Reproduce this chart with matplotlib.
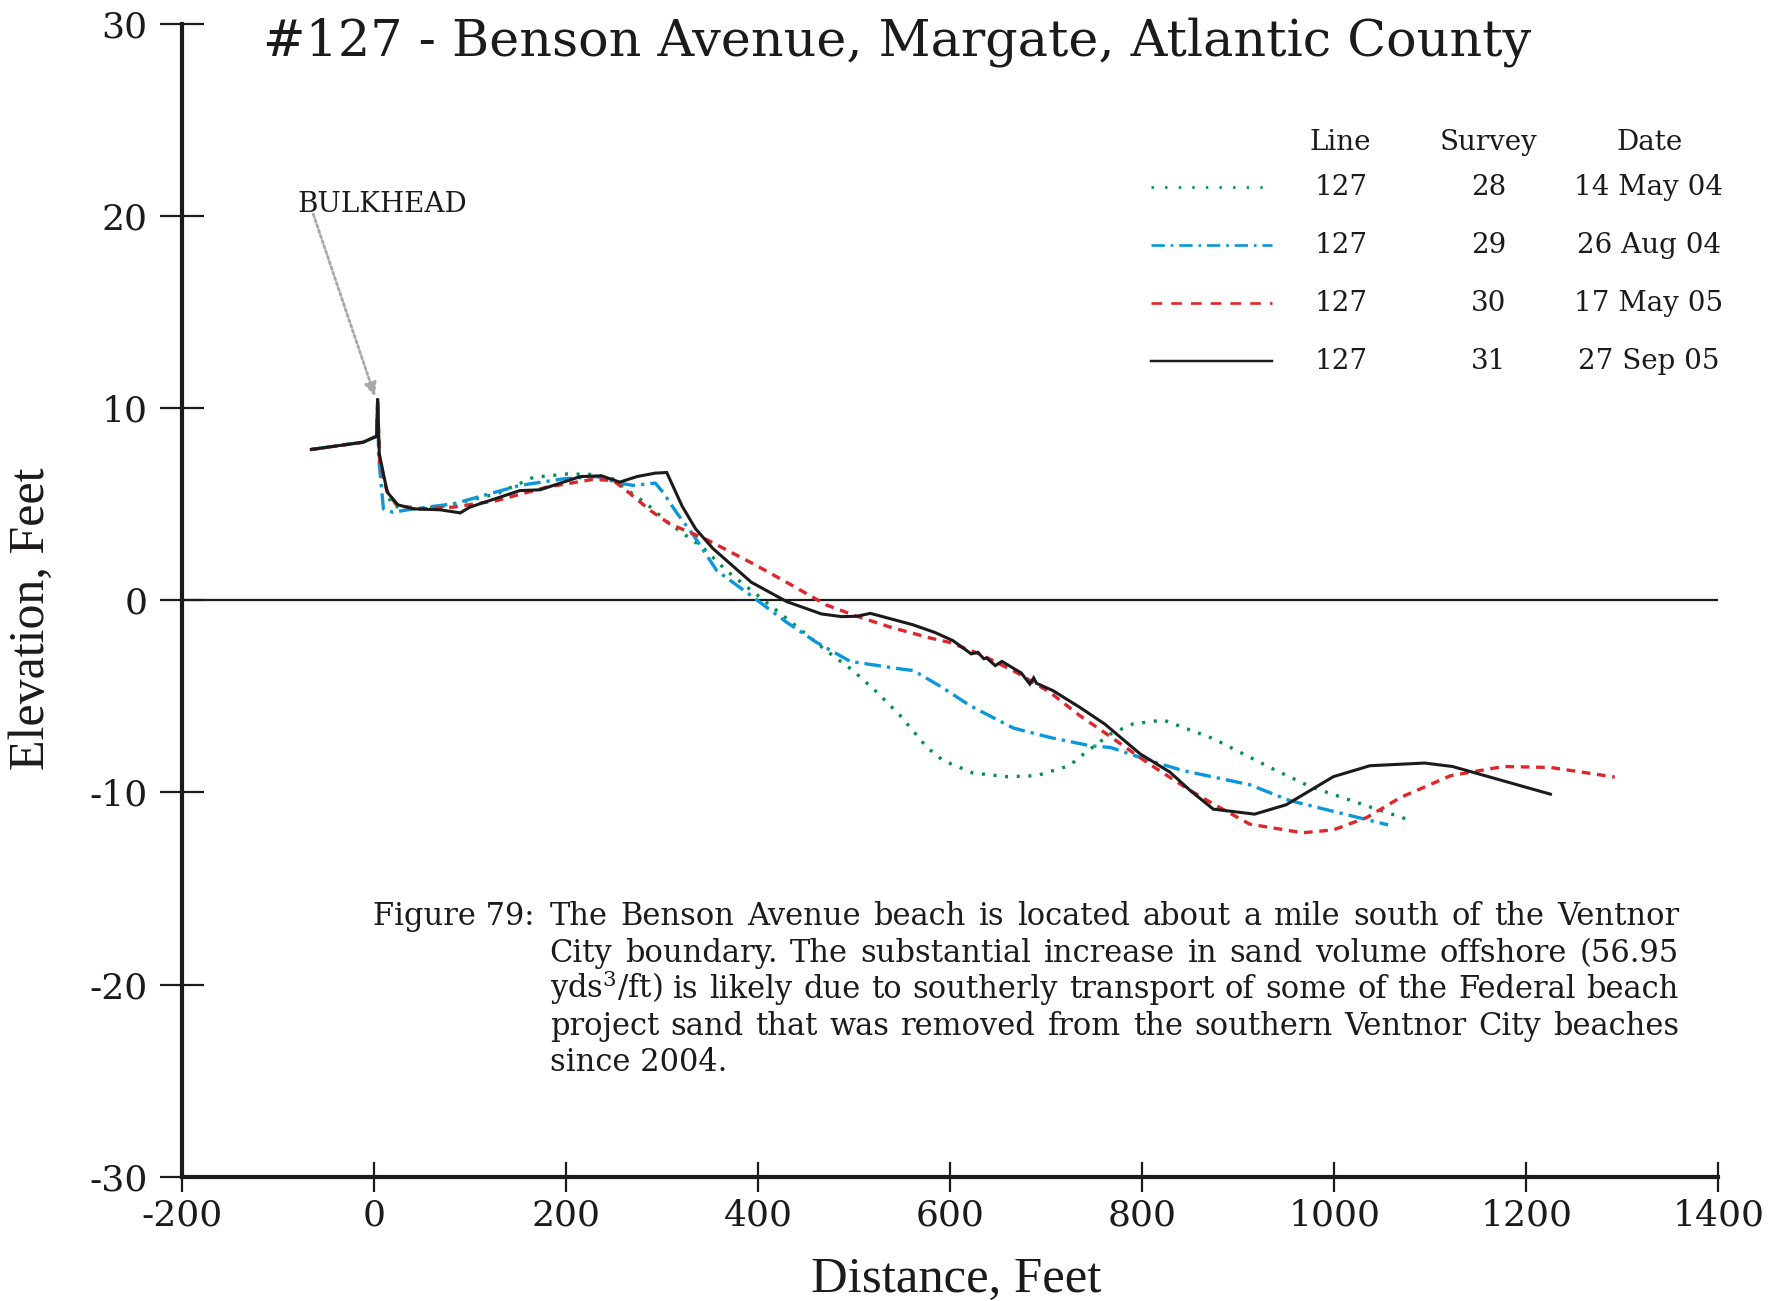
import matplotlib
matplotlib.use("Agg")
import matplotlib.pyplot as plt
from matplotlib.lines import Line2D

# --- figure size in pixels (dpi 100) ---
W, H = 1781, 1301

# --- profile data: distance (ft) and elevation (ft) for each survey ---
x28 = [-65, -11, 3, 4, 6, 18.6, 41, 76, 128, 166, 202, 228, 249, 265, 284, 308, 343, 367,
       402, 437, 471, 499, 524, 548, 576, 593, 624, 659, 690, 724, 741, 767, 790, 822, 874,
       933, 975, 1037, 1081]
y28 = [7.85, 8.23, 8.54, 10.3, 7.0, 4.93, 4.7, 4.93, 5.54, 6.4, 6.58, 6.55, 6.32, 5.71, 5.02,
       3.98, 2.73, 1.55, 0.16, -1.23, -2.62, -3.66, -4.79, -6.0, -7.66, -8.35, -8.99, -9.18,
       -9.13, -8.61, -7.92, -6.96, -6.44, -6.23, -7.2, -8.7, -9.7, -10.75, -11.48]

x29 = [-65, -11, 3, 4, 5, 10, 20, 41, 83, 152, 197, 232, 256, 270, 293, 301, 315, 333, 357,
       395, 430, 461, 496, 548, 562, 590, 621, 666, 704, 746, 767, 808, 843, 912, 954, 1056]
y29 = [7.85, 8.23, 8.54, 10.3, 7.5, 4.76, 4.58, 4.76, 5.02, 5.98, 6.32, 6.44, 6.1, 5.98, 6.1,
       5.63, 4.58, 3.37, 1.55, 0.16, -1.15, -2.19, -3.18, -3.57, -3.66, -4.48, -5.49, -6.65,
       -7.14, -7.57, -7.66, -8.35, -8.87, -9.6, -10.43, -11.69]

x30 = [-65, -11, 3, 4, 6, 13.5, 24, 52, 83, 128, 180, 228, 249, 265, 288, 308, 347, 395, 433,
       471, 503, 538, 579, 600, 631, 669, 704, 735, 763, 805, 850, 874, 912, 967, 999, 1034,
       1069, 1121, 1176, 1225, 1292]
y30 = [7.85, 8.23, 8.54, 10.3, 7.2, 5.71, 4.93, 4.76, 4.85, 5.19, 5.89, 6.29, 6.24, 5.63, 4.67,
       3.98, 3.15, 1.9, 0.85, -0.24, -0.83, -1.4, -1.96, -2.2, -2.8, -3.75, -4.79, -6.0, -6.96,
       -8.44, -9.9, -10.6, -11.65, -12.1, -11.95, -11.3, -10.26, -9.13, -8.65, -8.7, -9.2]

x31 = [-65, -11, 3, 4, 5.7, 14, 25, 41, 69, 90, 100, 152, 173, 215, 237, 256, 274, 293, 305,
       321, 335, 353, 393, 430, 466, 487, 503, 517, 561, 584, 603, 622, 629, 635, 638, 647,
       654, 674, 683, 687, 690, 707, 735, 761, 798, 808, 829, 850, 874, 917, 950, 999, 1037,
       1094, 1123, 1225]
y31 = [7.85, 8.23, 8.54, 10.5, 7.63, 5.63, 4.97, 4.76, 4.71, 4.55, 4.85, 5.71, 5.75, 6.44,
       6.48, 6.15, 6.44, 6.62, 6.65, 4.9, 3.72, 2.7, 0.94, -0.07, -0.71, -0.85, -0.83, -0.68,
       -1.27, -1.67, -2.1, -2.79, -2.71, -3.04, -3.0, -3.4, -3.18, -3.78, -4.36, -4.04, -4.32,
       -4.7, -5.57, -6.44, -8.0, -8.3, -8.95, -9.9, -10.87, -11.13, -10.64, -9.18, -8.61,
       -8.47, -8.65, -10.09]

lines_col = ["127", "127", "127", "127"]
survey_col = ["28", "29", "30", "31"]
date_col = ["14 May 04", "26 Aug 04", "17 May 05", "27 Sep 05"]

x_ticks = [-200, 0, 200, 400, 600, 800, 1000, 1200, 1400]
y_ticks = [-30, -20, -10, 0, 10, 20, 30]

caption_lines = [
    "The Benson Avenue beach is located about a mile south of the Ventnor",
    "City boundary.  The substantial increase in sand volume offshore (56.95",
    "yds$^3$/ft) is likely due to southerly transport of some of the Federal beach",
    "project sand that was removed from the southern Ventnor City beaches",
    "since 2004.",
]

# --- styles ---
SERIF = "DejaVu Serif"
plt.rcParams["axes.unicode_minus"] = False
plt.rcParams["mathtext.fontset"] = "dejavuserif"
styles = [
    dict(color="#00924a", lw=2.4, ls=(0, (0.9, 2.6))),
    dict(color="#0a98dc", lw=2.4, ls=(0, (5, 1.8, 1, 1.8))),
    dict(color="#e0262a", lw=2.4, ls=(0, (2.6, 2.0))),
    dict(color="#1c1a1a", lw=2.2, ls="-"),
]
leg_ls = [(0, (0.9, 4.2)), (0, (5, 2.2, 1, 2.2)), (0, (4.0, 3.4)), "-"]
series = [(x28, y28), (x29, y29), (x30, y30), (x31, y31)]


def fx(px):
    return px / W


def fy(py):
    return 1 - py / H


fig = plt.figure(figsize=(W / 100, H / 100), dpi=100)
ax = fig.add_axes([fx(181.7), fy(1176.7), fx(1718.5) - fx(181.7), fy(23.9) - fy(1176.7)])

ax.axhline(0, color="#1c1a1a", lw=1.6, zorder=1)
for (xs, ys), st in zip(series, styles):
    ax.plot(xs, ys, color=st["color"], lw=st["lw"], linestyle=st["ls"], zorder=2,
            solid_joinstyle="miter")

ax.set_xlim(-200, 1400)
ax.set_ylim(-30, 30)
ax.set_xticks(x_ticks)
ax.set_yticks(y_ticks)
for s in ("top", "right"):
    ax.spines[s].set_visible(False)
for s in ("left", "bottom"):
    ax.spines[s].set_linewidth(3.0)
    ax.spines[s].set_color("#1c1a1a")
ax.tick_params(axis="y", direction="inout", length=31, width=1.6, pad=9,
               labelsize=26, colors="#1c1a1a")
ax.tick_params(axis="x", direction="inout", length=22, width=1.6, pad=5,
               labelsize=26, colors="#1c1a1a")
for lab in ax.get_xticklabels() + ax.get_yticklabels():
    lab.set_fontfamily(SERIF)

# bulkhead annotation
ax.annotate("", xy=(1.3, 10.6), xytext=(-63, 20.1),
            arrowprops=dict(arrowstyle="-|>,head_length=0.8,head_width=0.35",
                            color="#a8a8a8", lw=2.0, linestyle=(0, (1, 1)),
                            shrinkA=0, shrinkB=0))
ax.text(-79.3, 20.6, "BULKHEAD", fontsize=20, family=SERIF, color="#1c1a1a",
        ha="left", va="center")

# title and axis labels
fig.text(fx(263), fy(42), "#127 - Benson Avenue, Margate, Atlantic County",
         fontsize=36.5, family=SERIF, color="#1c1a1a", ha="left", va="center")
fig.text(fx(32), fy(619), "Elevation, Feet", rotation=90, fontsize=36,
         family="Liberation Serif", color="#1c1a1a", ha="center", va="center")
fig.text(fx(956), fy(1280), "Distance, Feet", fontsize=36.5,
         family="Liberation Serif", color="#1c1a1a", ha="center", va="center")

# legend table
leg_kw = dict(fontsize=20, family=SERIF, color="#1c1a1a", ha="center", va="center")
fig.text(fx(1340), fy(142), "Line", **leg_kw)
fig.text(fx(1488), fy(142), "Survey", **leg_kw)
fig.text(fx(1650), fy(142), "Date", **leg_kw)
row_y = [187.4, 245.3, 303.3, 361.2]
for ry, st, lls, l, s, d in zip(row_y, styles, leg_ls, lines_col, survey_col, date_col):
    fig.add_artist(Line2D([fx(1151), fx(1272)], [fy(ry), fy(ry)], color=st["color"],
                          lw=st["lw"] * 0.8, linestyle=lls))
    fig.text(fx(1341), fy(ry), l, **leg_kw)
    fig.text(fx(1489), fy(ry), s, **leg_kw)
    fig.text(fx(1649), fy(ry), d, **leg_kw)

# caption, justified
cap_kw = dict(fontsize=22, family=SERIF, color="#1c1a1a", va="baseline", ha="left")
base_y = [925, 962, 998, 1035, 1071]
fig.text(fx(373.5), fy(base_y[0]), "Figure 79:", **cap_kw)
renderer = fig.canvas.get_renderer()
x_left, x_right = 549.7, 1679
for i, (line, by) in enumerate(zip(caption_lines, base_y)):
    if i == len(caption_lines) - 1:
        fig.text(fx(x_left), fy(by), line, **cap_kw)
        continue
    words = line.split()
    texts = [fig.text(0, fy(by), w, **cap_kw) for w in words]
    widths = [t.get_window_extent(renderer).width for t in texts]
    gap = (x_right - x_left - sum(widths)) / (len(words) - 1)
    xpos = x_left
    for t, w in zip(texts, widths):
        t.set_x(fx(xpos))
        xpos += w + gap

fig.savefig("out.png", dpi=100, facecolor="white")
